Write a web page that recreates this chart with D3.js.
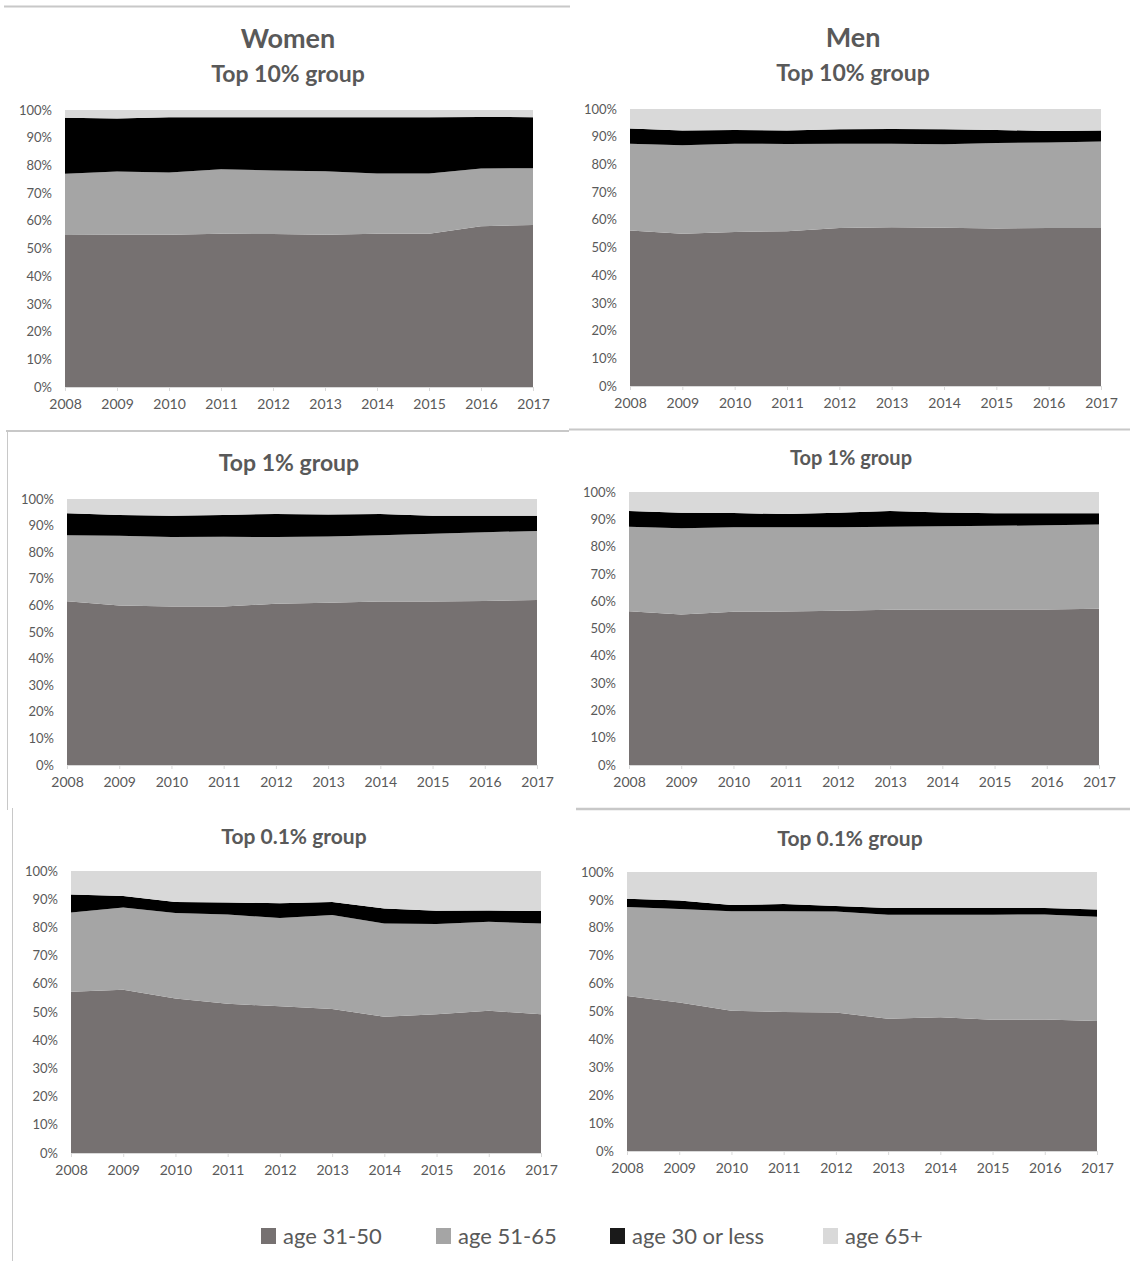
<!DOCTYPE html>
<html>
<head>
<meta charset="utf-8">
<script src="https://cdn.jsdelivr.net/npm/d3@7"></script>
<style>
  html, body { margin: 0; padding: 0; background: #ffffff; }
  svg { display: block; }
  text { font-family: Lato, "Open Sans", "Liberation Sans", sans-serif; }
</style>
</head>
<body>
<svg id="chart" width="1130" height="1261"></svg>
<script>
// ---------- data ----------
const years = [2008, 2009, 2010, 2011, 2012, 2013, 2014, 2015, 2016, 2017];
const seriesKeys = ["age 31-50", "age 51-65", "age 30 or less", "age 65+"];
const yTickLabels = ["0%", "10%", "20%", "30%", "40%", "50%", "60%", "70%", "80%", "90%", "100%"];

// Women, Top 10% group
const womenTop10_31_50 = [54.9, 55.0, 55.0, 55.3, 55.2, 55.0, 55.3, 55.3, 58.0, 58.5];
const womenTop10_51_65 = [22.1, 22.8, 22.4, 23.3, 23.0, 22.9, 21.8, 21.8, 20.9, 20.5];
const womenTop10_30less = [20.2, 19.1, 20.0, 18.8, 19.2, 19.5, 20.3, 20.3, 18.6, 18.4];
const womenTop10_65plus = [2.8, 3.1, 2.6, 2.6, 2.6, 2.6, 2.6, 2.6, 2.5, 2.6];

// Men, Top 10% group
const menTop10_31_50 = [56.1, 55.0, 55.6, 55.9, 57.0, 57.3, 57.1, 56.9, 57.0, 57.0];
const menTop10_51_65 = [31.4, 31.9, 31.9, 31.5, 30.5, 30.2, 30.2, 30.8, 30.9, 31.3];
const menTop10_30less = [5.5, 5.3, 4.9, 4.8, 5.2, 5.3, 5.4, 4.7, 4.2, 3.9];
const menTop10_65plus = [7.0, 7.8, 7.6, 7.8, 7.3, 7.2, 7.3, 7.6, 7.9, 7.8];

// Women, Top 1% group
const womenTop1_31_50 = [61.6, 60.0, 59.6, 59.6, 60.6, 61.0, 61.5, 61.5, 61.7, 62.0];
const womenTop1_51_65 = [24.8, 26.2, 26.1, 26.2, 25.1, 24.9, 24.9, 25.4, 25.8, 26.0];
const womenTop1_30less = [8.2, 7.8, 8.0, 8.2, 8.7, 8.3, 8.0, 6.8, 6.2, 5.7];
const womenTop1_65plus = [5.4, 6.0, 6.3, 6.0, 5.6, 5.8, 5.6, 6.3, 6.3, 6.3];

// Men, Top 1% group
const menTop1_31_50 = [56.3, 55.1, 56.1, 56.2, 56.5, 56.9, 57.0, 57.0, 57.0, 57.2];
const menTop1_51_65 = [31.0, 31.6, 31.0, 30.9, 30.6, 30.4, 30.5, 30.6, 30.8, 30.9];
const menTop1_30less = [5.7, 5.7, 5.2, 4.8, 5.3, 5.7, 5.0, 4.6, 4.4, 4.1];
const menTop1_65plus = [7.0, 7.6, 7.7, 8.1, 7.6, 7.0, 7.5, 7.8, 7.8, 7.8];

// Women, Top 0.1% group
const womenTop01_31_50 = [57.2, 57.9, 54.8, 52.9, 52.0, 51.1, 48.3, 49.2, 50.4, 49.2];
const womenTop01_51_65 = [28.1, 29.2, 30.3, 31.7, 31.3, 33.3, 33.1, 32.0, 31.6, 32.2];
const womenTop01_30less = [6.4, 4.0, 3.9, 4.2, 5.3, 4.6, 5.3, 4.7, 4.0, 4.4];
const womenTop01_65plus = [8.3, 8.9, 11.0, 11.2, 11.4, 11.0, 13.3, 14.1, 14.0, 14.2];

// Men, Top 0.1% group
const menTop01_31_50 = [55.6, 53.2, 50.3, 49.8, 49.6, 47.4, 47.9, 47.0, 47.1, 46.6];
const menTop01_51_65 = [31.9, 33.5, 35.6, 36.1, 36.2, 37.3, 36.8, 37.7, 37.7, 37.4];
const menTop01_30less = [2.9, 3.1, 2.3, 2.6, 2.0, 2.4, 2.4, 2.4, 2.3, 2.6];
const menTop01_65plus = [9.6, 10.2, 11.8, 11.5, 12.2, 12.9, 12.9, 12.9, 12.9, 13.4];

// ---------- styling / layout ----------
const colors = { "age 31-50": "#767171", "age 51-65": "#a5a5a5", "age 30 or less": "#000000", "age 65+": "#d9d9d9" };
const textColor = "#595959";

const panels = [
  { header: "Women", title: "Top 10% group", s: [womenTop10_31_50, womenTop10_51_65, womenTop10_30less, womenTop10_65plus],
    x0: 65, x1: 533, y0: 110, y1: 387, headerY: 48, titleY: 82, cx: 288, titleSize: 23 },
  { header: "Men", title: "Top 10% group", s: [menTop10_31_50, menTop10_51_65, menTop10_30less, menTop10_65plus],
    x0: 630, x1: 1101, y0: 109, y1: 386, headerY: 47, titleY: 81, cx: 853, titleSize: 23 },
  { header: null, title: "Top 1% group", s: [womenTop1_31_50, womenTop1_51_65, womenTop1_30less, womenTop1_65plus],
    x0: 67, x1: 537, y0: 499, y1: 765, titleY: 471, cx: 289, titleSize: 23 },
  { header: null, title: "Top 1% group", s: [menTop1_31_50, menTop1_51_65, menTop1_30less, menTop1_65plus],
    x0: 629, x1: 1099, y0: 492, y1: 765, titleY: 465, cx: 851, titleSize: 20 },
  { header: null, title: "Top 0.1% group", s: [womenTop01_31_50, womenTop01_51_65, womenTop01_30less, womenTop01_65plus],
    x0: 71, x1: 541, y0: 871, y1: 1153, titleY: 844, cx: 294, titleSize: 21 },
  { header: null, title: "Top 0.1% group", s: [menTop01_31_50, menTop01_51_65, menTop01_30less, menTop01_65plus],
    x0: 627, x1: 1097, y0: 872, y1: 1151, titleY: 846, cx: 850, titleSize: 21 }
];

const svg = d3.select("#chart");

// frame lines from the composed figure
const frame = svg.append("g").attr("stroke", "#c8c8c8").attr("fill", "none");
frame.append("line").attr("x1", 4).attr("x2", 570).attr("y1", 6.5).attr("y2", 6.5).attr("stroke-width", 2);
frame.append("line").attr("x1", 6).attr("x2", 569).attr("y1", 431).attr("y2", 431).attr("stroke-width", 2);
frame.append("line").attr("x1", 569).attr("x2", 1130).attr("y1", 429.5).attr("y2", 429.5).attr("stroke-width", 2);
frame.append("line").attr("x1", 7.5).attr("x2", 7.5).attr("y1", 431).attr("y2", 810).attr("stroke-width", 1);
frame.append("line").attr("x1", 12.5).attr("x2", 12.5).attr("y1", 808).attr("y2", 1261).attr("stroke-width", 1);
frame.append("line").attr("x1", 576).attr("x2", 1130).attr("y1", 809).attr("y2", 809).attr("stroke-width", 2.5);

const stack = d3.stack().keys(seriesKeys).order(d3.stackOrderNone).offset(d3.stackOffsetNone);

panels.forEach(p => {
  const rows = years.map((yr, i) => {
    const r = { year: yr };
    seriesKeys.forEach((k, j) => { r[k] = p.s[j][i]; });
    return r;
  });
  const layers = stack(rows);

  const x = d3.scalePoint().domain(years).range([p.x0, p.x1]);
  const y = d3.scaleLinear().domain([0, 100]).range([p.y1, p.y0]);

  const g = svg.append("g");

  const area = d3.area()
    .x(d => x(d.data.year))
    .y0(d => y(d[0]))
    .y1(d => y(d[1]));

  g.selectAll("path.layer").data(layers).join("path")
    .attr("class", "layer")
    .attr("d", area)
    .attr("fill", d => colors[d.key]);

  // y axis labels
  const yAxis = d3.axisLeft(y)
    .tickValues(d3.range(0, 101, 10))
    .tickFormat((d, i) => yTickLabels[i])
    .tickSize(0).tickPadding(13);
  const ya = g.append("g").attr("transform", `translate(${p.x0},0)`).call(yAxis);
  ya.select(".domain").remove();
  ya.selectAll("text").attr("fill", textColor).attr("font-size", 13).style("font-family", "Lato, 'Open Sans', sans-serif");

  // x axis
  const xAxis = d3.axisBottom(x).tickSizeInner(4).tickSizeOuter(0).tickPadding(8);
  const xa = g.append("g").attr("transform", `translate(0,${p.y1})`).call(xAxis);
  xa.select(".domain").attr("stroke", "#d9d9d9");
  xa.selectAll("line").attr("stroke", "#d9d9d9");
  xa.selectAll("text").attr("fill", textColor).attr("font-size", 14).style("font-family", "Lato, 'Open Sans', sans-serif");

  if (p.header) {
    svg.append("text").attr("x", p.cx).attr("y", p.headerY)
      .attr("text-anchor", "middle").attr("font-size", 27).attr("font-weight", "bold")
      .attr("fill", textColor).text(p.header);
  }
  svg.append("text").attr("x", p.cx).attr("y", p.titleY)
    .attr("text-anchor", "middle").attr("font-size", p.titleSize).attr("font-weight", "bold")
    .attr("fill", textColor).text(p.title);
});

// legend
const legendX = [261, 436, 610, 823];
const legend = svg.append("g");
seriesKeys.forEach((k, i) => {
  legend.append("rect").attr("x", legendX[i]).attr("y", 1228).attr("width", 15).attr("height", 16)
    .attr("fill", colors[k] === "#000000" ? "#1a1a1a" : colors[k]);
  legend.append("text").attr("x", legendX[i] + 22).attr("y", 1244)
    .attr("font-size", 22).attr("fill", textColor).text(k);
});
</script>
</body>
</html>
